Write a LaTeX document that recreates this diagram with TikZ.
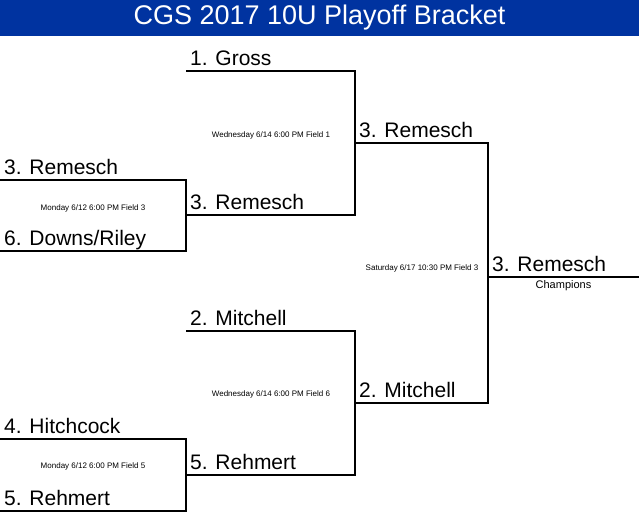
\documentclass[tikz,border=0pt]{standalone}
\usepackage{fontspec}
\setmainfont{Liberation Sans}
\usetikzlibrary{positioning}
\definecolor{titleblue}{RGB}{0,51,160}
\tikzstyle{team} = [inner sep=0pt, text height=15pt, text depth=4pt, font=\fontsize{21}{21}\selectfont]
\tikzstyle{game} = [inner sep=0pt, font=\fontsize{8}{8}\selectfont]
\tikzstyle{line} = [draw, line width=2pt]

\begin{document}
\begin{tikzpicture}[x=1pt, y=-1pt]
    \useasboundingbox (0,0) rectangle (639,513);
    \fill[titleblue] (0,0) rectangle (639,36);
    \node[white, inner sep=0pt, font=\fontsize{27}{27}\selectfont](title) at (319.5,18){CGS 2017 10U Playoff Bracket};

    % line ends and corners
    \coordinate (a1) at (0,180);
    \coordinate (a2) at (0,251);
    \coordinate (aw) at (186,215);
    \coordinate (b1) at (0,439);
    \coordinate (b2) at (0,511);
    \coordinate (bw) at (186,475);
    \coordinate (g1) at (186,71);
    \coordinate (g2) at (186,331);
    \coordinate (s1w) at (355,143);
    \coordinate (s2w) at (355,403);
    \coordinate (fw) at (488,277);
    \coordinate (champ) at (639,277);

    \path[line] (a1) -| (aw) |- (a2);
    \path[line] (b1) -| (bw) |- (b2);
    \path[line] (g1) -| (s1w) |- (aw);
    \path[line] (g2) -| (s2w) |- (bw);
    \path[line] (s1w) -| (fw) |- (s2w);
    \path[line] (fw) -- (champ);

    \node[team, above right=1pt and 4pt of a1](t1){3. Remesch};
    \node[team, above right=1pt and 4pt of a2](t2){6. Downs/Riley};
    \node[team, above right=1pt and 4pt of b1](t3){4. Hitchcock};
    \node[team, above right=1pt and 4pt of b2](t4){5. Rehmert};
    \node[team, above right=1pt and 4pt of g1](t5){1. Gross};
    \node[team, above right=1pt and 4pt of aw](t6){3. Remesch};
    \node[team, above right=1pt and 4pt of g2](t7){2. Mitchell};
    \node[team, above right=1pt and 4pt of bw](t8){5. Rehmert};
    \node[team, above right=1pt and 4pt of s1w](t9){3. Remesch};
    \node[team, above right=1pt and 4pt of s2w](t10){2. Mitchell};
    \node[team, above right=1pt and 4pt of fw](t11){3. Remesch};

    \node[game](gameA) at (93,208){Monday 6/12 6:00 PM Field 3};
    \node[game](gameB) at (93,466){Monday 6/12 6:00 PM Field 5};
    \node[game](gameC) at (271,135){Wednesday 6/14 6:00 PM Field 1};
    \node[game](gameD) at (271,394){Wednesday 6/14 6:00 PM Field 6};
    \node[game](gameE) at (422,268){Saturday 6/17 10:30 PM Field 3};
    \node[inner sep=0pt, font=\fontsize{11}{11}\selectfont](champions) at (563.5,286){Champions};
\end{tikzpicture}
\end{document}
